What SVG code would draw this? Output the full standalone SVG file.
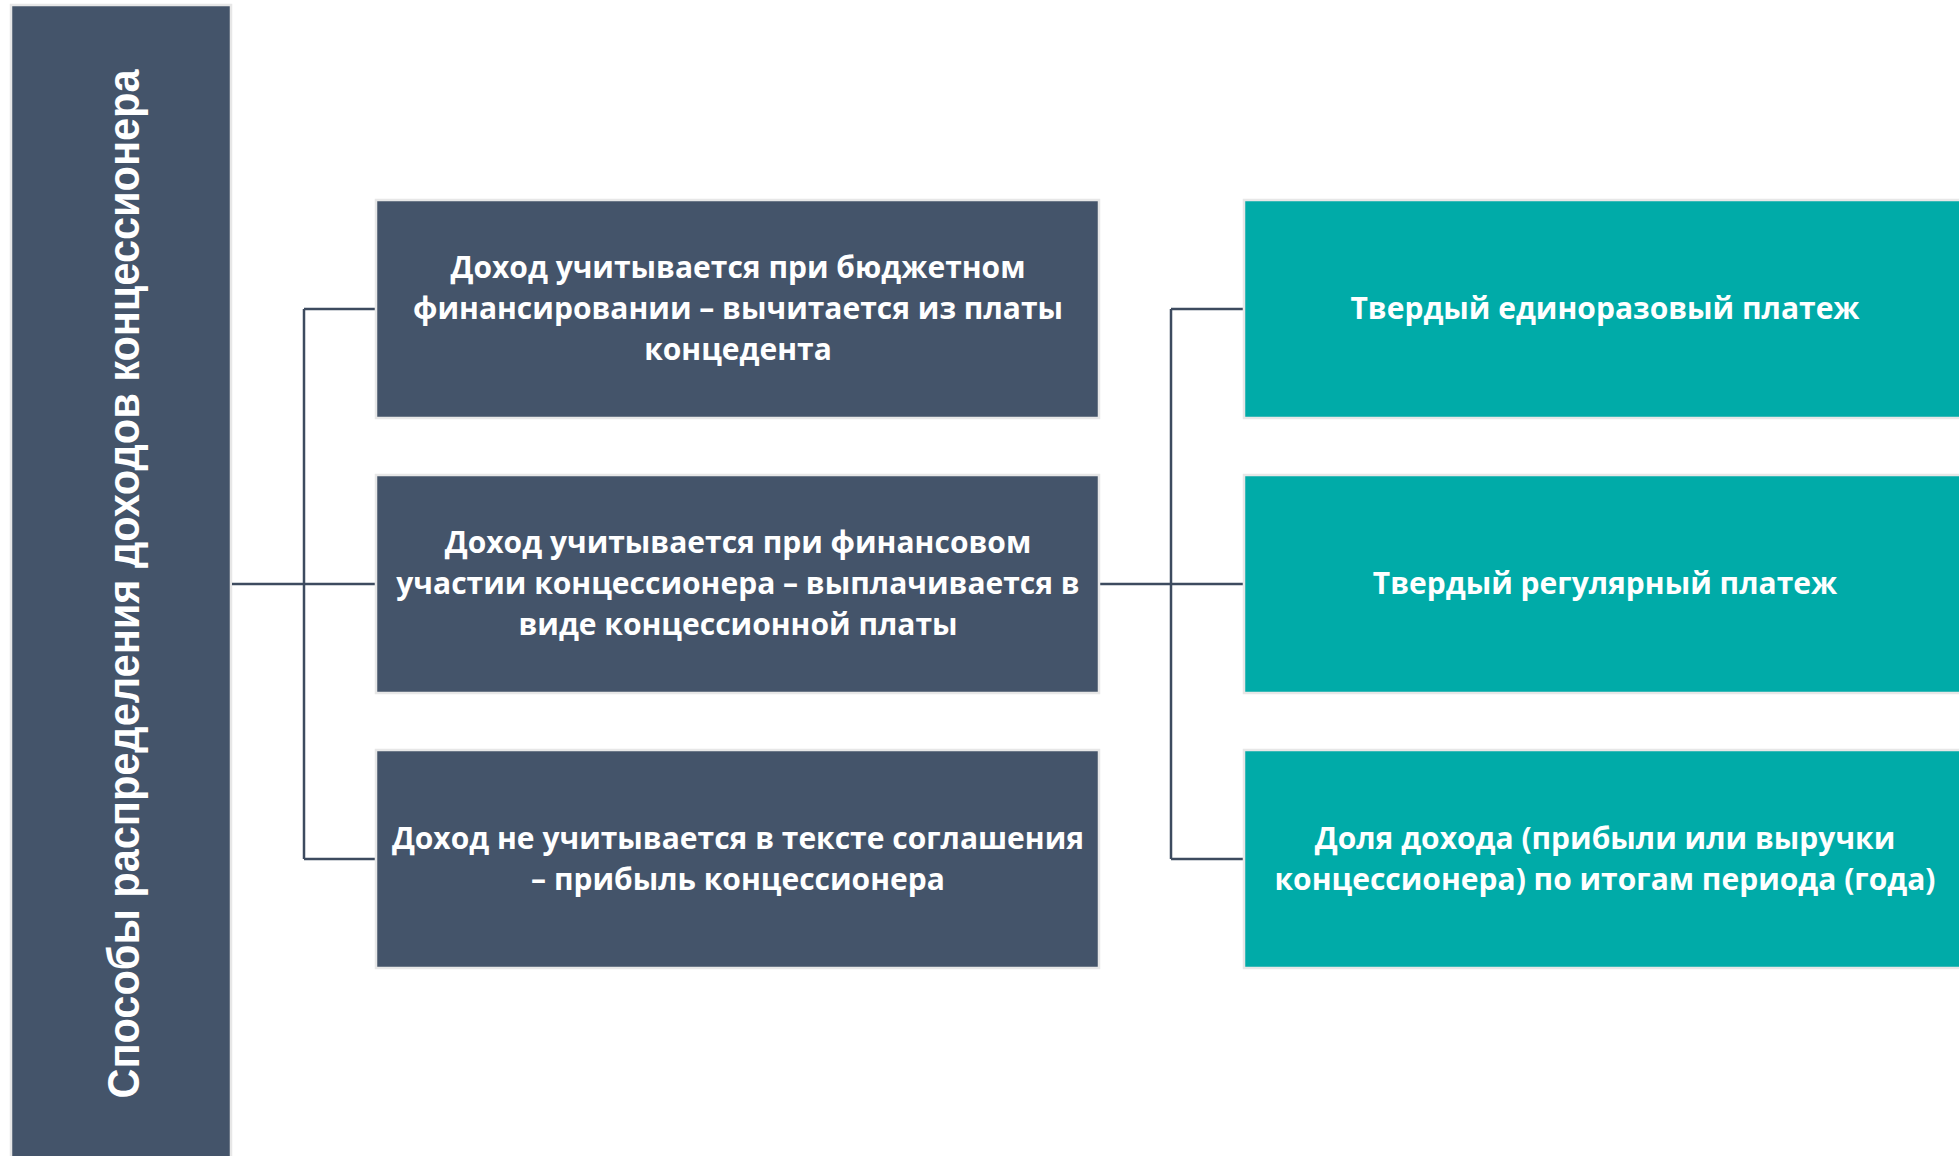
<svg xmlns="http://www.w3.org/2000/svg" width="1959" height="1156" viewBox="0 0 1959 1156">
<style>
.dark{fill:#44546a;stroke:#e7e7e7;stroke-width:2.5}
.teal{fill:#00aba8;stroke:#e7e7e7;stroke-width:2.5}
.t{font-family:"Open Sans","Noto Sans","Liberation Sans",sans-serif;font-weight:700;font-size:30px;fill:#ffffff;text-anchor:middle}
.title{font-family:"Liberation Sans",Arial,sans-serif;font-weight:700;font-size:45px;fill:#ffffff;text-anchor:middle}
.c{fill:none;stroke:#3d4b5f;stroke-width:2.5}
</style>
<rect width="1959" height="1156" fill="#ffffff"/>
<g id="root">
<rect class="dark" x="11" y="5" width="220" height="1160"/>
<text class="title" transform="translate(139,584) rotate(-90)" x="0" y="0" textLength="1029" lengthAdjust="spacingAndGlyphs">Способы распределения доходов концессионера</text>
</g>
<g id="connectors">
<path class="c" d="M232,584H304M304,309V859M304,309H376M304,584H376M304,859H376"/>
<path class="c" d="M1099,584H1171M1171,309V859M1171,309H1244M1171,584H1244M1171,859H1244"/>
</g>
<g id="n1">
<rect class="dark" x="376" y="200" width="723" height="218"/>
<text class="t" x="738" y="278">Доход учитывается при бюджетном</text>
<text class="t" x="738" y="319">финансировании – вычитается из платы</text>
<text class="t" x="738" y="360">концедента</text>
</g>
<g id="n2">
<rect class="dark" x="376" y="475" width="723" height="218"/>
<text class="t" x="738" y="553">Доход учитывается при финансовом</text>
<text class="t" x="738" y="594">участии концессионера – выплачивается в</text>
<text class="t" x="738" y="635">виде концессионной платы</text>
</g>
<g id="n3">
<rect class="dark" x="376" y="750" width="723" height="218"/>
<text class="t" x="738" y="849">Доход не учитывается в тексте соглашения</text>
<text class="t" x="738" y="890">– прибыль концессионера</text>
</g>
<g id="r1">
<rect class="teal" x="1244" y="200" width="723" height="218"/>
<text class="t" x="1605" y="319">Твердый единоразовый платеж</text>
</g>
<g id="r2">
<rect class="teal" x="1244" y="475" width="723" height="218"/>
<text class="t" x="1605" y="594">Твердый регулярный платеж</text>
</g>
<g id="r3">
<rect class="teal" x="1244" y="750" width="723" height="218"/>
<text class="t" x="1605" y="849">Доля дохода (прибыли или выручки</text>
<text class="t" x="1605" y="890">концессионера) по итогам периода (года)</text>
</g>
</svg>
